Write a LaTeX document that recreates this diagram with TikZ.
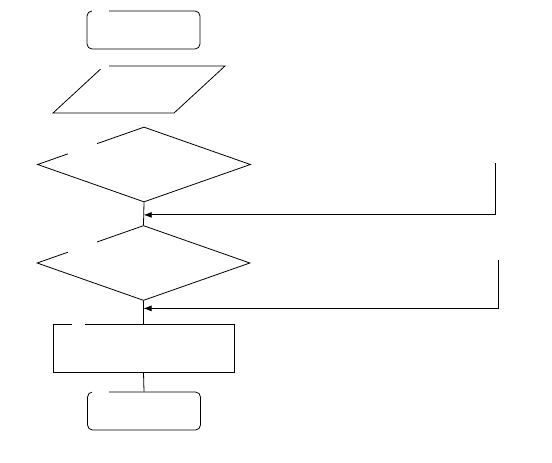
\documentclass[tikz,border=0pt]{standalone}
\usetikzlibrary{positioning, shapes.geometric, arrows.meta, calc}

\begin{document}
\begin{tikzpicture}[
  x=1pt, y=-1pt,
  line width=0.8pt,
  % Flowchart blocks
  terminal/.style={rectangle, rounded corners=5pt, draw, minimum width=113pt, minimum height=38pt, inner sep=0pt},
  io/.style={trapezium, trapezium left angle=54, trapezium right angle=126, trapezium stretches=true, draw, minimum width=172pt, minimum height=47pt, inner sep=2pt},
  decision/.style={diamond, draw, minimum width=213pt, minimum height=75pt, inner sep=0pt},
  process/.style={rectangle, draw, minimum width=181pt, minimum height=48pt, inner sep=0pt},
  % Connectors
  back/.style={-{Latex[length=8pt,width=6pt]}},
  gap/.style={fill=white}
  ]
  \useasboundingbox (0,0) rectangle (552,463);

  % --- Blocks ---
  \node[terminal] (start) at (143.5,30) {};
  \node[io] (input) at (139,89.5) {};
  \node[decision] (test1) at (144,164.5) {};
  \node[decision] (test2) at (143.5,263) {};
  \node[process] (work) at (143.5,348) {};
  \node[terminal] (stop) at (144,411) {};

  % --- Straight flow ---
  \draw (test1.south) -- (test2.north);
  \draw (test2.south) -- (work.north);
  \draw (work.south) -- (stop.north);

  % --- Loops coming back from the right ---
  \coordinate (loop1) at (495,163);
  \coordinate (loop2) at (498,260);
  \coordinate (join1) at ($(test1.south)!0.55!(test2.north)$);
  \coordinate (join2) at ($(test2.south)!0.33!(work.north)$);
  \draw[back] (loop1) |- (join1);
  \draw[back] (loop2) |- (join2);

  % --- Blank patches on the outlines ---
  \fill[gap] (92,8) rectangle (109,14);
  \fill[gap] (92,63) rectangle (109,69);
  \fill[gap] (68,140) rectangle (97,158);
  \fill[gap] (68,238) rectangle (97,256);
  \fill[gap] (72,321) rectangle (85,327);
  \fill[gap] (92,389) rectangle (109,395);

\end{tikzpicture}
\end{document}
